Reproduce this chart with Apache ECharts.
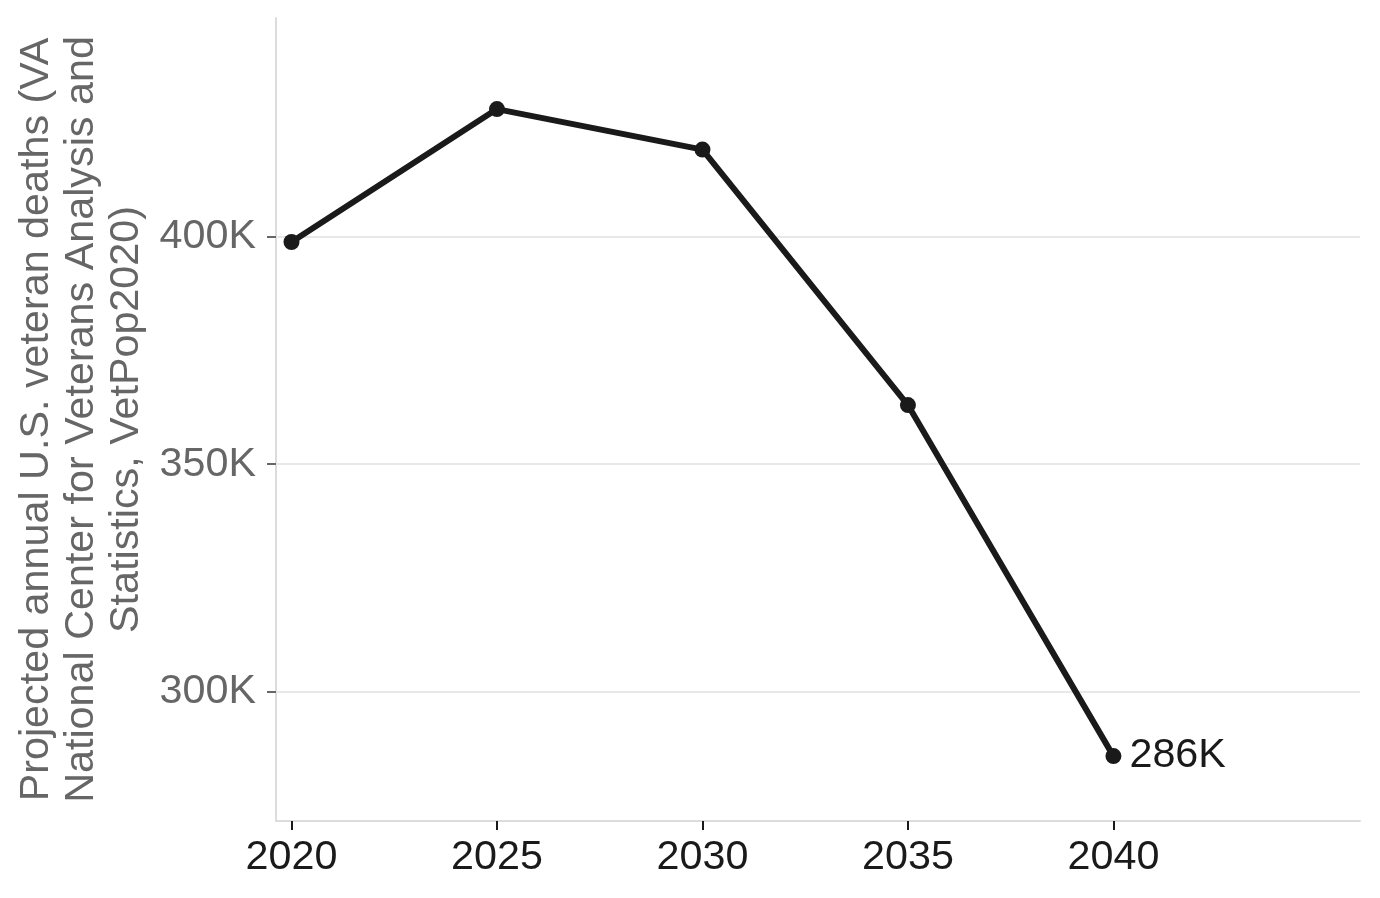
<!DOCTYPE html>
<html>
<head>
<meta charset="utf-8">
<script src="https://cdn.jsdelivr.net/npm/echarts@6/dist/echarts.min.js"></script>
<style>
html,body{margin:0;padding:0;background:#fff;}
#chart{width:1380px;height:898px;}
</style>
</head>
<body>
<div id="chart"></div>
<script>
var years = [2020, 2025, 2030, 2035, 2040];
var deaths = [398800, 428000, 419100, 363000, 285900];
var xTicks = [2020, 2025, 2030, 2035, 2040];
var yTicks = [300000, 350000, 400000];
var endLabel = '286K';
var yTitle = 'Projected annual U.S. veteran deaths (VA\nNational Center for Veterans Analysis and\nStatistics, VetPop2020)';

var FONT = '"Liberation Sans", Arial, Helvetica, sans-serif';
var FS = 41.3;
var chart = echarts.init(document.getElementById('chart'));

var lineData = years.map(function (y, i) {
  var d = { value: [y, deaths[i]] };
  if (i === years.length - 1) {
    d.label = { show: true, formatter: endLabel };
  }
  return d;
});

chart.setOption({
  animation: false,
  backgroundColor: '#fff',
  grid: { left: 276, top: 18, right: 20, bottom: 77, containLabel: false },
  xAxis: {
    type: 'value',
    min: 2019.623,
    max: 2046,
    axisLine: { show: true, lineStyle: { color: '#dcdcdc', width: 2 } },
    axisTick: { show: true, customValues: xTicks, length: 9, lineStyle: { color: '#1a1a1a', width: 2 } },
    axisLabel: { customValues: xTicks, color: '#1a1a1a', fontSize: FS, fontFamily: FONT, margin: 16,
      formatter: function (v) { return String(v); } },
    splitLine: { show: false }
  },
  yAxis: {
    type: 'value',
    min: 271650,
    max: 448000,
    name: yTitle,
    nameLocation: 'middle',
    nameGap: 127,
    nameTextStyle: { color: '#666666', fontSize: FS, fontFamily: FONT, lineHeight: 45, align: 'center' },
    axisLine: { show: true, lineStyle: { color: '#dcdcdc', width: 2 } },
    axisTick: { show: true, customValues: yTicks, length: 9, lineStyle: { color: '#666666', width: 2 } },
    axisLabel: { customValues: yTicks, color: '#666666', fontSize: FS, fontFamily: FONT, margin: 20,
      formatter: function (v) { return Math.round(v / 1000) + 'K'; } },
    splitLine: { show: false }
  },
  series: [
    {
      type: 'line',
      data: [],
      silent: true,
      z: 1,
      markLine: {
        silent: true,
        symbol: ['none', 'none'],
        label: { show: false },
        lineStyle: { color: '#e8e8e8', width: 2, type: 'solid' },
        data: yTicks.map(function (v) { return { yAxis: v }; })
      }
    },
    {
      type: 'line',
      z: 5,
      data: lineData,
      symbol: 'circle',
      symbolSize: 16,
      lineStyle: { color: '#1a1a1a', width: 6 },
      itemStyle: { color: '#1a1a1a' },
      label: { show: false, position: 'right', distance: 8, color: '#1a1a1a', fontSize: FS, fontFamily: FONT }
    }
  ]
});
</script>
</body>
</html>
